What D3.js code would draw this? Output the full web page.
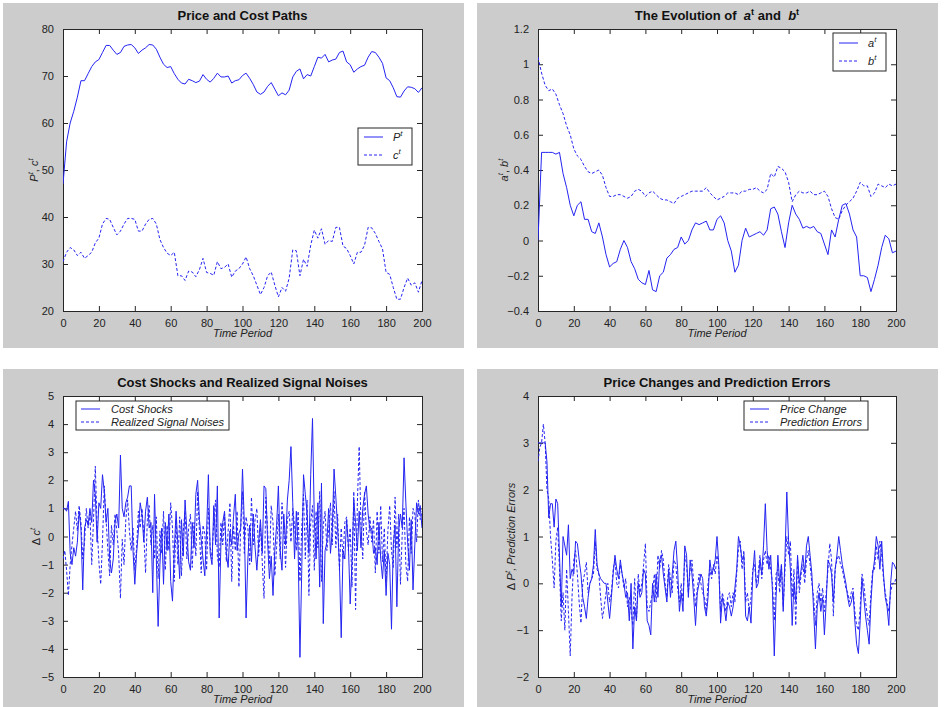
<!DOCTYPE html>
<html><head><meta charset="utf-8">
<script src="https://cdn.jsdelivr.net/npm/d3@7"></script>
<style>body{margin:0;background:#fff}svg{display:block}text{font-family:"Liberation Sans",Arial,sans-serif;white-space:pre}</style>
</head><body>
<svg id="chart" width="949" height="707"></svg>
<script>
// ---------- DATA ----------
const xTicks = [0,20,40,60,80,100,120,140,160,180,200];
const pathTime = d3.range(0, 201, 2);   // t = 0,2,...,200
const shockTime = d3.range(0, 201, 1);  // t = 0,1,...,200

const priceP = [47,56,60,62.5,65.5,69,69,70.5,72,73,73.5,75,76.5,76.5,75.5,74.6,75,76.3,76.6,76.7,76,74.8,75.5,76,76.7,76.6,75.7,74,72.5,71.8,72,70.5,69.3,68.5,68.3,69.3,69,68.6,68.9,70.3,69.3,68.7,69.5,70.6,69.8,69.8,70,68.5,69,69.2,70.1,70.6,69.5,68.2,66.6,66.1,66.6,67.8,68.6,67.2,65.8,66.4,66,67,69.8,71,71.5,69.4,70.3,70,72,74,73.8,74.6,73,73.4,73.6,75,75.3,73,72.4,70.8,71.5,72,72.3,74,75.2,75,74,72.7,69.6,69,67.5,65.6,65.5,66.8,67.7,67.6,67.3,66.5,67.5];
const costC = [30.5,32.5,33.5,33,31.8,32.5,31.2,31.8,32.5,34.5,35.5,38.5,39.7,39.5,37.8,36.2,37,38.5,39.7,39.7,39.5,37,37,38.5,39.5,39.7,38.5,35.2,33.5,32.3,31.8,32.5,27.5,27.5,26.5,28.5,28.3,27.3,28.8,31.2,28.2,28,27.6,30.5,29,29.3,30,27.2,28.5,29,30,31.5,29,27.5,25.5,23.5,25,27.5,28.3,25.5,23,25,24.2,27,33,32.8,27.5,31,29.5,34,37.2,35.5,37.5,34.2,35,34.8,37.8,37.8,33.8,33.3,31.8,30,32.5,32.5,34,37.8,37.7,36.5,34.8,33.2,28.2,27.8,25,22.5,22.5,25,27,25.5,26,24,26.5];

const coefA = [0,0.5,0.5,0.5,0.5,0.49,0.5,0.38,0.3,0.2,0.14,0.2,0.22,0.12,0.12,0.05,0.04,0.1,0.02,-0.08,-0.15,-0.13,-0.12,-0.05,0,-0.04,-0.12,-0.16,-0.22,-0.24,-0.25,-0.17,-0.28,-0.29,-0.2,-0.18,-0.1,-0.08,-0.05,-0.04,0.02,-0.02,0,0.06,0.1,0.09,0.1,0.11,0.06,0.06,0.12,0.14,0.1,0,-0.06,-0.18,-0.14,0,0.07,0.02,0.03,0.04,0.05,0.03,0.06,0.18,0.19,0.15,0.05,-0.04,0.1,0.2,0.15,0.12,0.07,0.08,0.07,0.08,0.05,0.04,-0.02,-0.08,0.06,0.02,0.12,0.2,0.21,0.15,0.06,0.02,-0.2,-0.2,-0.21,-0.29,-0.22,-0.14,-0.04,0.03,0.01,-0.07,-0.06];
const coefB = [1.04,0.95,0.88,0.85,0.86,0.83,0.77,0.72,0.65,0.6,0.52,0.48,0.46,0.42,0.39,0.38,0.39,0.4,0.37,0.3,0.25,0.25,0.26,0.26,0.25,0.24,0.25,0.28,0.29,0.28,0.25,0.27,0.28,0.26,0.24,0.23,0.23,0.22,0.21,0.24,0.25,0.26,0.27,0.28,0.28,0.28,0.28,0.3,0.27,0.25,0.23,0.24,0.25,0.27,0.27,0.27,0.26,0.28,0.28,0.29,0.29,0.3,0.28,0.27,0.29,0.38,0.36,0.42,0.41,0.39,0.33,0.22,0.26,0.28,0.27,0.27,0.28,0.26,0.26,0.27,0.28,0.25,0.18,0.13,0.12,0.17,0.2,0.22,0.24,0.28,0.33,0.31,0.31,0.25,0.27,0.32,0.31,0.3,0.32,0.31,0.32];

const costShocks = [1.0,1.0,0.9,1.25,-0.6,-1.0,-0.4,-0.7,-0.2,0.9,0.3,-1.9,0.3,0.6,0.4,1.0,0.5,2.0,1.5,-0.2,1.2,1.0,2.2,1.6,0.5,1.0,-0.8,-1.3,-0.8,0.5,0.8,0.3,2.9,1.0,0.7,1.2,1.4,1.8,1.8,-0.5,-1.7,-0.6,0.2,1.2,0.8,-0.2,0.9,1.4,0.3,0.5,-2.0,1.5,-0.8,-3.2,-1.0,0.3,-1.7,0.5,-0.5,0.8,-1.6,-2.3,-0.5,0.9,-0.3,-1.5,0.6,-0.7,1.3,0.2,-0.9,-1.2,0.5,-0.4,1.5,2.0,0.6,-0.1,-0.8,-1.4,0.2,2.2,-0.6,-1.0,1.1,-0.3,1.8,-2.9,-0.2,0.5,0.9,-0.6,-1.1,0.2,-0.3,0.7,1.5,-0.5,0.1,0.3,2.4,0.5,-2.9,-0.8,0.4,-0.9,0.8,-0.4,-1.2,-0.2,0.6,-0.6,1.8,1.7,-0.2,-1.5,-0.7,-2.1,-0.5,0.4,1.8,-0.5,-1.2,0.8,-0.3,1.3,2.0,3.2,1.2,-0.8,0.9,-0.5,-4.3,-1.2,2.2,1.5,0.8,-0.6,2.2,4.2,0.6,-0.8,1.2,-1.8,1.9,-3.1,-0.5,-0.2,1.0,-0.6,0.2,2.4,1.4,0.3,-1.0,-3.6,-0.5,-0.8,0.6,-0.3,-2.4,-0.9,1.3,0.5,-0.5,0.9,-0.4,1.0,1.5,1.8,0.8,0.2,0.3,-0.6,-0.4,-1.0,0.5,-0.8,-1.5,-0.5,-2.1,-0.6,-1.0,-3.3,-0.3,0.4,-2.5,0.2,0.8,0.3,2.8,1.2,-0.2,-1.2,0.6,-1.9,-0.3,1.2,0.8,1.1,0.3];
const signalNoises = [-0.8,-0.5,-1.2,-2.1,-1.0,-0.3,0.3,0.9,0.2,1.1,0.5,-0.8,-0.2,1.0,0.3,0.8,-1.0,0.6,2.5,0.4,-0.9,-1.7,-0.2,1.8,0.6,-0.5,-1.4,0.4,-0.3,0.8,0.2,-0.6,-2.2,-0.1,-1.0,0.6,1.3,0.2,-0.5,0.3,-1.2,-0.4,0.9,0.3,1.0,0.1,-1.3,0.6,1.1,-0.3,0.4,-0.8,0.7,-1.5,0.2,-0.6,0.9,-1.2,0.4,-0.5,1.2,0.3,-1.6,0.6,-1.0,0.7,-1.4,0.2,0.9,-0.8,0.3,0.8,-1.1,0.5,-0.7,1.6,0.2,-1.3,0.4,0.1,-1.2,1.0,-0.4,-0.8,0.6,1.3,-0.7,-1.1,0.5,-0.3,0.8,-0.9,0.2,1.2,-1.6,0.4,-0.5,0.9,-1.8,0.3,1.6,-0.6,0.7,0.3,-1.0,1.4,-0.3,0.6,1.0,-0.7,0.4,-0.9,-2.2,1.4,0.2,-1.0,1.1,0.5,-1.4,-0.4,0.8,-0.8,1.2,0.3,-1.1,0.6,0.9,-0.2,1.0,0.4,-0.5,0.9,-1.6,0.3,1.5,-0.8,1.3,-2.1,0.5,1.1,-1.2,0.9,-0.4,1.6,-1.6,0.4,0.9,-0.5,0.2,1.2,-0.3,1.6,-0.4,0.8,-1.2,0.3,-0.8,0.5,0.7,-0.5,0.3,-1.8,1.6,-2.6,1.2,3.2,0.4,-0.8,1.6,0.2,-0.3,0.7,-0.2,0.6,-1.3,0.9,-0.6,1.1,-0.9,0.3,-1.6,0.2,1.1,-0.5,-1.1,1.4,-0.4,0.8,-1.7,0.1,1.0,-1.0,-1.6,0.7,-0.6,1.0,0.8,-0.2,1.3,0.6,0.9];

const priceChange = [3.0,3.0,3.0,3.0,3.0,2.6,1.4,1.7,1.7,1.2,1.8,1.7,0.6,-0.5,1.0,0.8,0.6,1.25,0.1,0.3,0.2,0.9,0.85,0.5,0.2,-0.3,-0.5,-0.75,-0.3,0.0,0.1,0.4,1.15,0.4,0.2,0.1,0.05,0.0,0.0,-0.4,-0.75,-0.3,0.2,0.6,0.3,0.1,0.5,0.2,0.0,-0.3,-0.2,-0.8,0.0,-1.4,-0.5,-0.8,0.0,-0.3,-0.2,0.3,0.2,-0.8,-0.9,-1.1,0.0,-0.4,0.2,-0.3,0.5,0.6,0.2,-0.1,-0.4,0.3,-0.3,0.2,0.7,0.9,0.3,-0.6,-0.2,-0.6,0.8,0.6,-0.3,0.5,0.2,-0.3,-0.9,-0.2,0.0,0.2,0.1,-0.5,-0.7,-0.3,0.5,0.2,0.3,0.5,1.0,0.4,-0.85,-0.3,-0.5,-0.8,-0.4,-0.5,-0.7,-0.5,-0.1,0.3,1.0,0.8,0.5,0.6,-0.7,-0.8,-0.5,-0.85,0.2,0.7,-0.1,0.0,0.5,0.2,0.8,1.7,0.7,0.3,0.6,-0.2,-1.55,-0.3,0.6,0.0,0.4,-0.6,0.6,1.95,0.9,0.3,-0.9,0.0,-0.4,0.6,0.0,0.3,0.6,0.2,0.8,1.0,0.6,0.2,-0.6,-1.4,-0.5,-0.2,-0.6,-0.3,-1.1,-0.4,0.5,0.4,0.2,-0.4,0.3,0.6,1.0,0.7,0.4,0.2,0.0,-0.3,-0.5,-0.4,-0.2,-0.8,-1.3,-1.5,-0.8,0.1,-0.3,-0.7,-1.0,-1.3,-0.4,0.2,0.5,1.0,0.8,0.3,0.9,0.2,-0.3,-0.5,-0.9,0.0,0.45,0.4,0.3];
const predictionErrors = [2.6,2.9,3.0,3.4,3.0,2.0,1.8,1.0,0.5,-0.1,0.9,1.2,0.3,-0.8,-0.2,-1.0,0.3,-0.6,-1.55,-0.3,0.5,0.7,0.2,-0.4,-0.85,0.0,0.2,0.45,-0.2,0.0,0.1,0.2,0.9,0.3,0.2,-0.3,-0.75,-0.5,-0.2,0.0,-0.4,-0.2,0.3,0.5,0.0,-0.1,0.4,0.2,-0.1,0.1,-0.5,-0.3,-0.6,-0.9,0.1,-0.8,0.2,-0.2,0.0,0.4,0.85,-0.5,-0.6,-0.4,-0.2,0.2,-0.4,0.6,0.3,0.7,0.5,0.0,-0.3,0.4,0.1,-0.2,0.5,0.4,-0.1,-0.4,0.0,-0.4,0.6,0.4,-0.2,0.3,0.5,0.0,-0.5,-0.1,0.2,0.0,-0.2,-0.3,-0.6,0.0,0.3,0.1,0.4,0.2,0.6,0.3,-0.6,-0.2,-0.4,-0.6,-0.3,-0.2,-0.5,-0.2,-0.4,0.2,0.75,0.9,0.3,0.7,-0.4,-0.2,-0.6,-0.3,0.3,0.4,0.0,0.2,0.6,0.1,0.5,0.7,0.4,0.6,0.3,0.0,-0.8,0.2,0.3,-0.2,0.4,-0.5,0.3,1.0,0.6,0.9,-0.3,0.3,-0.9,0.5,-0.2,0.2,0.4,0.0,0.5,0.7,0.4,0.0,-0.3,-0.9,-0.2,0.0,-0.4,-0.1,-0.6,-0.2,0.3,0.85,0.5,-0.7,0.3,0.5,0.6,0.4,0.3,0.1,-0.1,-0.2,-0.4,-0.2,-0.1,-0.6,-0.9,-1.0,-0.5,0.2,0.0,-0.4,-0.7,-0.9,-0.2,0.3,0.3,0.8,0.5,0.9,0.6,0.1,-0.2,-0.4,-0.6,-0.2,0.0,0.0,0.1];

const yTicks1 = [20,30,40,50,60,70,80];
const yTicks2 = [-0.4,-0.2,0,0.2,0.4,0.6,0.8,1,1.2];
const yTicks3 = [-5,-4,-3,-2,-1,0,1,2,3,4,5];
const yTicks4 = [-2,-1,0,1,2,3,4];

// ---------- DRAWING ----------
const svg = d3.select("#chart");
svg.append("rect").attr("width",949).attr("height",707).attr("fill","#ffffff");
const LINE = "#2424f2";
const AX = "#262626";

function richText(sel, segs, size) {
  let shifted = 0;
  segs.forEach(s => {
    const ts = sel.append("tspan").text(s.t);
    if (s.i) ts.attr("font-style","italic");
    if (s.sup) {
      ts.attr("font-size", size*0.72).attr("dy", -size*0.42 - shifted);
      shifted = -size*0.42;
    } else if (shifted !== 0) {
      ts.attr("dy", -shifted);
      shifted = 0;
    }
  });
}

function panel(cfg) {
  const g = svg.append("g");
  g.append("rect").attr("x",cfg.bg[0]).attr("y",cfg.bg[1]).attr("width",cfg.bg[2]).attr("height",cfg.bg[3]).attr("fill","#cccccc");
  const L = cfg.box[0], T = cfg.box[1], R = cfg.box[2], B = cfg.box[3];
  g.append("rect").attr("x",L).attr("y",T).attr("width",R-L).attr("height",B-T).attr("fill","#ffffff");
  const x = d3.scaleLinear().domain([0,200]).range([L,R]);
  const y = d3.scaleLinear().domain(cfg.ydom).range([B,T]);

  const fmt = cfg.fmt || d3.format("d");
  const axB = g.append("g").attr("transform",`translate(0,${B})`).call(d3.axisBottom(x).tickValues(xTicks).tickSize(-5).tickPadding(8).tickFormat(d3.format("d")));
  const axT = g.append("g").attr("transform",`translate(0,${T})`).call(d3.axisTop(x).tickValues(xTicks).tickSize(-5).tickFormat(""));
  const axL = g.append("g").attr("transform",`translate(${L},0)`).call(d3.axisLeft(y).tickValues(cfg.yticks).tickSize(-5).tickPadding(9).tickFormat(fmt));
  const axR = g.append("g").attr("transform",`translate(${R},0)`).call(d3.axisRight(y).tickValues(cfg.yticks).tickSize(-5).tickFormat(""));
  [axB,axT,axL,axR].forEach(a => {
    a.selectAll("path.domain").attr("stroke",AX);
    a.selectAll(".tick line").attr("stroke",AX);
    a.selectAll("text").attr("fill","#222").attr("font-size",11).attr("font-family","Liberation Sans, Arial, sans-serif");
  });

  const clip = "clip" + cfg.id;
  g.append("clipPath").attr("id",clip).append("rect").attr("x",L).attr("y",T).attr("width",R-L).attr("height",B-T);
  cfg.series.forEach(s => {
    const line = d3.line().x((d,i) => x(s.t[i])).y(d => y(d));
    g.append("path").datum(s.v).attr("d",line).attr("fill","none").attr("stroke",LINE)
      .attr("stroke-width",1).attr("stroke-dasharray", s.dash ? "3,2" : null).attr("clip-path",`url(#${clip})`);
  });

  const tt = g.append("text").attr("x",(L+R)/2).attr("y",T-9).attr("text-anchor","middle")
    .attr("font-size",13).attr("font-weight","bold").attr("fill","#111");
  richText(tt, cfg.title, 13);
  g.append("text").attr("x",(L+R)/2).attr("y",B+26).attr("text-anchor","middle").attr("font-size",11)
    .attr("font-style","italic").attr("fill","#222").text("Time Period");
  const yl = g.append("text").attr("transform",`translate(${cfg.ylx},${(T+B)/2}) rotate(-90)`).attr("text-anchor","middle")
    .attr("font-size",11).attr("fill","#222");
  richText(yl, cfg.ylabel, 11);

  const lg = cfg.legend;
  g.append("rect").attr("x",lg.x).attr("y",lg.y).attr("width",lg.w).attr("height",lg.h).attr("fill","#fff").attr("stroke",AX).attr("stroke-width",1);
  lg.items.forEach((it,i) => {
    const yy = lg.y + lg.row0 + i*lg.dy;
    g.append("line").attr("x1",lg.x+lg.lx0).attr("x2",lg.x+lg.lx1).attr("y1",yy).attr("y2",yy)
      .attr("stroke",LINE).attr("stroke-width",1).attr("stroke-dasharray", cfg.series[i].dash ? "3,2" : null);
    const t = g.append("text").attr("x",lg.x+lg.tx).attr("y",yy+4).attr("font-size",11).attr("fill","#222");
    richText(t, it, 11);
  });
}

panel({
  id:1, bg:[3,3,461,345], box:[63,29,422,311], ydom:[20,80], yticks:yTicks1,
  title:[{t:"Price and Cost Paths"}],
  ylabel:[{t:"P",i:true},{t:"t",i:true,sup:true},{t:", "},{t:"c",i:true},{t:"t",i:true,sup:true}], ylx:38,
  series:[{t:pathTime,v:priceP},{t:pathTime,v:costC,dash:true}],
  legend:{x:358,y:128,w:54,h:37,row0:9,dy:18,lx0:6,lx1:25,tx:35,items:[[{t:"P",i:true},{t:"t",i:true,sup:true}],[{t:"c",i:true},{t:"t",i:true,sup:true}]]}
});
panel({
  id:2, bg:[477,3,461,345], box:[538,29,896,311], ydom:[-0.4,1.2], yticks:yTicks2, fmt:d3.format("~g"),
  title:[{t:"The Evolution of  "},{t:"a",i:true},{t:"t",sup:true},{t:" and  "},{t:"b",i:true},{t:"t",sup:true}],
  ylabel:[{t:"a",i:true},{t:"t",i:true,sup:true},{t:", "},{t:"b",i:true},{t:"t",i:true,sup:true}], ylx:508,
  series:[{t:pathTime,v:coefA},{t:pathTime,v:coefB,dash:true}],
  legend:{x:833,y:33,w:53,h:38,row0:10,dy:18,lx0:6,lx1:25,tx:35,items:[[{t:"a",i:true},{t:"t",i:true,sup:true}],[{t:"b",i:true},{t:"t",i:true,sup:true}]]}
});
panel({
  id:3, bg:[3,369,461,338], box:[63,396,422,677], ydom:[-5,5], yticks:yTicks3,
  title:[{t:"Cost Shocks and Realized Signal Noises"}],
  ylabel:[{t:"\u0394 "},{t:"c",i:true},{t:"t",i:true,sup:true}], ylx:40,
  series:[{t:shockTime,v:costShocks},{t:shockTime,v:signalNoises,dash:true}],
  legend:{x:76,y:401,w:153,h:29,row0:8,dy:13,lx0:5,lx1:24,tx:35,items:[[{t:"Cost Shocks",i:true}],[{t:"Realized Signal Noises",i:true}]]}
});
panel({
  id:4, bg:[477,369,461,338], box:[538,396,896,677], ydom:[-2,4], yticks:yTicks4,
  title:[{t:"Price Changes and Prediction Errors"}],
  ylabel:[{t:"\u0394 "},{t:"P",i:true},{t:"t",i:true,sup:true},{t:", Prediction Errors",i:true}], ylx:515,
  series:[{t:shockTime,v:priceChange},{t:shockTime,v:predictionErrors,dash:true}],
  legend:{x:744,y:401,w:124,h:29,row0:8,dy:13,lx0:6,lx1:25,tx:36,items:[[{t:"Price Change",i:true}],[{t:"Prediction Errors",i:true}]]}
});
</script>
</body></html>
